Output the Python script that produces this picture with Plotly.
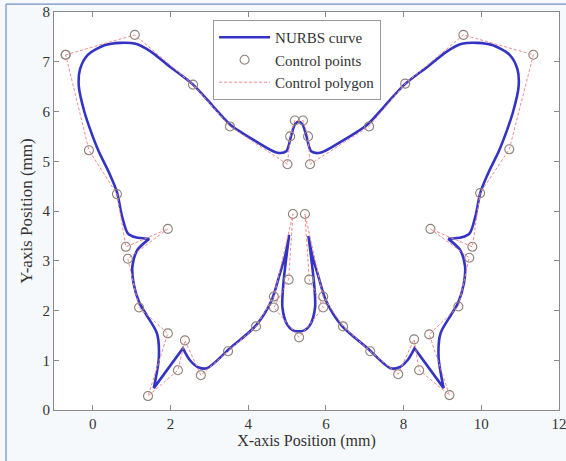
import plotly.graph_objects as go

# NURBS curve points (mm); repeated points mark sharp corners
curve_x = [0.62, 0.40, 0.15, -0.05, -0.22, -0.36, -0.33, -0.13, 0.30, 0.70, 1.10, 1.50, 1.95, 2.58,
           3.10, 3.53, 4.20, 4.75, 4.98, 5.10, 5.20, 5.30, 5.40, 5.50, 5.62, 5.85, 6.40, 7.07,
           7.50, 8.02, 8.65, 9.10, 9.50, 9.90, 10.30, 10.73, 10.93, 10.96, 10.82, 10.65, 10.45,
           10.20, 9.98, 9.85, 9.70, 9.50, 9.15, 9.15, 9.45, 9.58, 9.55, 9.40, 9.21, 8.95, 8.90,
           9.03, 9.03, 8.28, 8.28, 8.10, 7.89, 7.66, 7.07, 6.40, 6.00, 5.80, 5.65, 5.55, 5.55,
           5.63, 5.70, 5.72, 5.60, 5.45, 5.30, 5.15, 5.00, 4.88, 4.90, 4.97, 5.05, 5.05, 4.95,
           4.80, 4.60, 4.20, 3.53, 2.94, 2.71, 2.50, 2.32, 2.32, 1.57, 1.57, 1.70, 1.65, 1.39,
           1.20, 1.05, 1.02, 1.15, 1.45, 1.45, 1.10, 0.90, 0.75, 0.62]
curve_y = [4.38, 4.80, 5.20, 5.60, 6.00, 6.50, 6.85, 7.14, 7.33, 7.38, 7.36, 7.20, 6.92, 6.54,
           6.10, 5.74, 5.40, 5.17, 5.20, 5.50, 5.74, 5.80, 5.74, 5.50, 5.20, 5.17, 5.40, 5.74,
           6.10, 6.54, 6.92, 7.20, 7.36, 7.38, 7.33, 7.14, 6.85, 6.50, 6.00, 5.60, 5.20,
           4.80, 4.38, 3.90, 3.55, 3.47, 3.44, 3.44, 3.22, 2.90, 2.54, 2.15, 1.90, 1.54, 1.06,
           0.44, 0.44, 1.24, 1.24, 1.00, 0.86, 0.84, 1.24, 1.70, 2.20, 2.70, 3.10, 3.50, 3.50,
           3.00, 2.50, 2.06, 1.72, 1.60, 1.58, 1.60, 1.72, 2.06, 2.50, 3.00, 3.50, 3.50, 3.10,
           2.70, 2.20, 1.70, 1.24, 0.84, 0.86, 1.00, 1.24, 1.24, 0.44, 0.44, 1.06, 1.54, 1.90,
           2.15, 2.54, 2.90, 3.22, 3.44, 3.44, 3.47, 3.55, 3.90, 4.38]

# Control points / control polygon (mm)
ctrl_x = [-0.70, 1.08, 2.58, 3.53, 5.01, 5.08, 5.20, 5.41, 5.54, 5.59, 7.11, 8.04, 9.54, 11.34,
          10.72, 9.97, 9.77, 8.69, 9.69, 9.41, 8.66, 9.18, 8.40, 8.27, 7.86, 7.14, 6.44, 5.93,
          5.46, 5.57, 5.93, 5.31, 4.66, 5.04, 5.15, 4.66, 4.20, 3.48, 2.78, 2.37, 2.19, 1.42,
          1.93, 1.19, 0.90, 1.93, 0.85, 0.62, -0.10, -0.70]
ctrl_y = [7.14, 7.54, 6.54, 5.70, 4.94, 5.50, 5.82, 5.82, 5.50, 4.94, 5.70, 6.56, 7.54, 7.14,
          5.24, 4.36, 3.28, 3.64, 3.06, 2.08, 1.52, 0.30, 0.80, 1.42, 0.72, 1.18, 1.68, 2.28,
          3.94, 2.62, 2.06, 1.46, 2.06, 2.62, 3.94, 2.28, 1.68, 1.18, 0.70, 1.40, 0.80, 0.28,
          1.54, 2.06, 3.04, 3.64, 3.28, 4.34, 5.22, 7.14]

x_ticks = [0, 2, 4, 6, 8, 10, 12]
y_ticks = [0, 1, 2, 3, 4, 5, 6, 7, 8]

FONT = "Liberation Serif, Times New Roman, serif"
TXT = "#333333"

fig = go.Figure()
fig.add_trace(go.Scatter(
    x=curve_x, y=curve_y, mode="lines", name="NURBS curve",
    line=dict(color="#3434c4", width=2.6, shape="spline", smoothing=0.8),
))
fig.add_trace(go.Scatter(
    x=ctrl_x, y=ctrl_y, mode="markers", name="Control points",
    marker=dict(symbol="circle-open", size=9, color="#8c8079", line=dict(width=1.1)),
))
fig.add_trace(go.Scatter(
    x=ctrl_x, y=ctrl_y, mode="lines", name="Control polygon",
    line=dict(color="#f08a8a", width=1, dash="3px,2px"),
))

axis_common = dict(
    showgrid=False, zeroline=False, showline=True, linecolor="#8a8a8a", linewidth=1,
    mirror="ticks", ticks="inside", ticklen=5, tickcolor="#8a8a8a",
    tickfont=dict(family=FONT, size=15, color=TXT), ticklabeloverflow="allow",
)
fig.update_xaxes(range=[-1, 12], tickvals=x_ticks,
                 title=dict(text="X-axis Position (mm)", font=dict(family=FONT, size=16, color=TXT),
                            standoff=2),
                 **axis_common)
fig.update_yaxes(range=[0, 8], tickvals=y_ticks,
                 title=dict(text="Y-axis Position (mm)", font=dict(family=FONT, size=17, color=TXT),
                            standoff=5),
                 **axis_common)

fig.update_layout(
    width=566, height=461,
    margin=dict(l=54, r=7, t=12, b=51, autoexpand=False),
    paper_bgcolor="#f6f9fb", plot_bgcolor="white",
    showlegend=True,
    legend=dict(x=0.315, y=0.98, xanchor="left", yanchor="top",
                bgcolor="white", bordercolor="#9a9a9a", borderwidth=1,
                font=dict(family=FONT, size=15, color=TXT),
                itemwidth=51, tracegroupgap=0),
    shapes=[
        dict(type="line", xref="paper", yref="paper", x0=-0.095, x1=-0.095, y0=-0.14, y1=1.020,
             line=dict(color="#6f8fbf", width=1.2), layer="below"),
        dict(type="line", xref="paper", yref="paper", x0=-0.095, x1=1.02, y0=1.020, y1=1.020,
             line=dict(color="#6f8fbf", width=1.2), layer="below"),
    ],
)

fig.write_html("out.html", config={"displayModeBar": False},
               post_script="document.body.style.margin='0';document.body.style.overflow='hidden';")
